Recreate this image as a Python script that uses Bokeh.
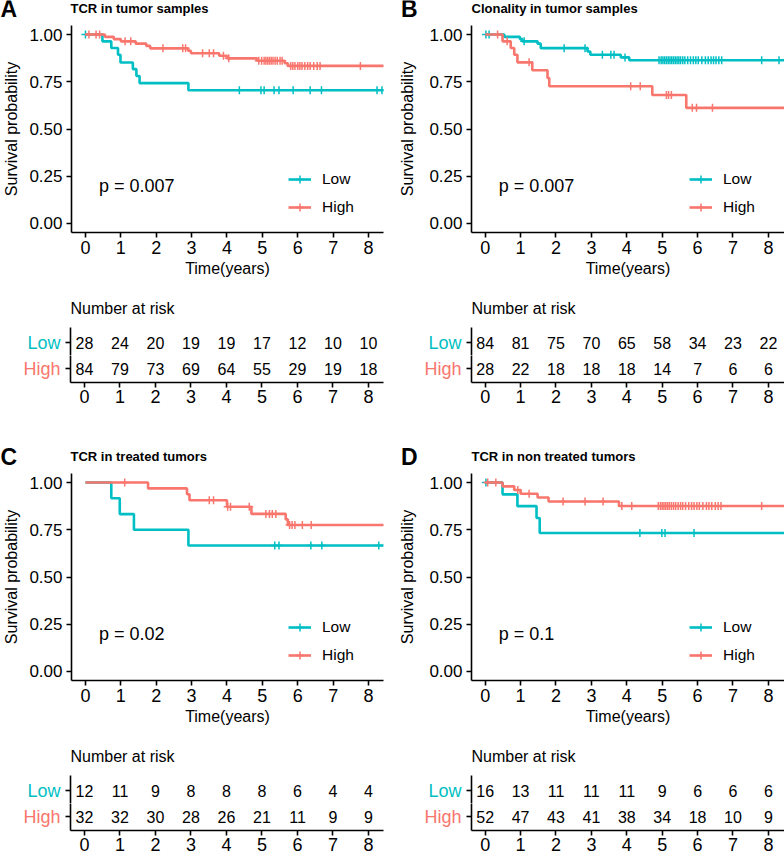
import numpy as np
from bokeh.plotting import figure
from bokeh.layouts import column, row
from bokeh.models import (Range1d, ColumnDataSource, Legend, LegendItem,
                          FixedTicker, NumeralTickFormatter, Label)
from bokeh.core.properties import value
from bokeh.embed import file_html
from bokeh.resources import INLINE

FONT = "Liberation Sans"
LOW_COLOR = "#00BFC4"
HIGH_COLOR = "#F8766D"

years = [0, 1, 2, 3, 4, 5, 6, 7, 8]
groups = ["Low", "High"]
group_rows = [1, 0]
y_ticks = [0.0, 0.25, 0.5, 0.75, 1.0]

# ---------------- Panel A ----------------
a_letter = "A"
a_title = "TCR in tumor samples"
a_pval = "p = 0.007"
a_low_t = [0, 0.48, 0.73, 0.92, 0.99, 1.34, 1.44, 1.53, 2.91, 8.5]
a_low_s = [1.0, 0.964, 0.929, 0.893, 0.852, 0.817, 0.781, 0.743, 0.705, 0.705]
a_low_cens = [0.0, 4.35, 4.96, 5.05, 5.33, 5.47, 5.87, 6.35, 6.67, 8.24, 8.38]
a_high_t = [0, 0.55, 0.80, 1.00, 1.42, 1.72, 1.83, 2.90, 2.98, 3.78, 4.00, 4.85, 5.63, 5.72, 8.5]
a_high_s = [1.0, 0.988, 0.976, 0.964, 0.952, 0.940, 0.927, 0.914, 0.901, 0.888, 0.874, 0.861, 0.848, 0.834, 0.834]
a_high_cens = [0.10, 0.30, 0.40, 1.12, 1.28, 2.19, 2.75, 2.83, 3.31, 3.50, 3.62, 3.90, 4.05,
               4.90, 4.98, 5.05, 5.10, 5.15, 5.20, 5.25, 5.30, 5.36, 5.42, 5.50, 5.56,
               5.80, 5.86, 5.92, 6.00, 6.06, 6.12, 6.20, 6.28, 6.35, 6.45, 6.55, 6.63, 7.77]
a_risk_low = [28, 24, 20, 19, 19, 17, 12, 10, 10]
a_risk_high = [84, 79, 73, 69, 64, 55, 29, 19, 18]

# ---------------- Panel B ----------------
b_letter = "B"
b_title = "Clonality in tumor samples"
b_pval = "p = 0.007"
b_low_t = [0, 0.54, 0.98, 1.05, 1.48, 1.57, 2.89, 2.97, 3.83, 4.07, 8.5]
b_low_s = [1.0, 0.988, 0.976, 0.964, 0.952, 0.928, 0.910, 0.893, 0.879, 0.864, 0.864]
b_low_cens = [0.02, 0.11, 1.10, 2.23, 2.82, 3.31, 3.55, 3.64, 3.95,
              4.91, 4.97, 5.02, 5.07, 5.12, 5.17, 5.22, 5.27, 5.32, 5.37, 5.42, 5.47,
              5.52, 5.58, 5.64, 5.72, 5.80, 5.88, 5.95, 6.02, 6.12, 6.22, 6.30, 6.38,
              6.45, 6.52, 6.60, 6.68, 7.81, 8.30]
b_high_t = [0, 0.49, 0.72, 0.82, 0.91, 1.33, 1.76, 1.81, 4.72, 5.68, 8.5]
b_high_s = [1.0, 0.964, 0.929, 0.893, 0.853, 0.811, 0.770, 0.726, 0.680, 0.612, 0.612]
b_high_cens = [0.35, 0.62, 1.24, 4.11, 4.38, 5.12, 5.18, 5.26, 5.85, 5.97, 6.42]
b_risk_low = [84, 81, 75, 70, 65, 58, 34, 23, 22]
b_risk_high = [28, 22, 18, 18, 18, 14, 7, 6, 6]

# ---------------- Panel C ----------------
c_letter = "C"
c_title = "TCR in treated tumors"
c_pval = "p = 0.02"
c_low_t = [0, 0.73, 0.97, 1.37, 2.91, 8.5]
c_low_s = [1.0, 0.917, 0.833, 0.750, 0.667, 0.667]
c_low_cens = [5.35, 5.47, 6.37, 6.68, 8.29]
c_high_t = [0, 1.77, 2.87, 2.94, 4.00, 4.69, 5.66, 5.72, 8.5]
c_high_s = [1.0, 0.969, 0.938, 0.906, 0.872, 0.834, 0.805, 0.775, 0.775]
c_high_cens = [1.11, 3.50, 3.62, 4.02, 4.10, 4.63, 5.10, 5.20, 5.28, 5.38,
               5.77, 5.84, 5.92, 6.13, 6.38]
c_risk_low = [12, 11, 9, 8, 8, 8, 6, 4, 4]
c_risk_high = [32, 32, 30, 28, 26, 21, 11, 9, 9]

# ---------------- Panel D ----------------
d_letter = "D"
d_title = "TCR in non treated tumors"
d_pval = "p = 0.1"
d_low_t = [0, 0.49, 0.91, 1.45, 1.54, 8.5]
d_low_s = [1.0, 0.9375, 0.875, 0.8125, 0.733, 0.733]
d_low_cens = [0.02, 4.37, 4.99, 5.08, 5.90]
d_high_t = [0, 0.49, 0.82, 1.00, 1.48, 1.79, 3.78, 8.5]
d_high_s = [1.0, 0.980, 0.961, 0.941, 0.921, 0.900, 0.876, 0.876]
d_high_cens = [0.07, 0.30, 0.92, 1.24, 2.20, 2.82, 3.33, 3.86, 4.14,
               4.89, 4.95, 5.00, 5.05, 5.10, 5.15, 5.20, 5.26, 5.32, 5.38, 5.45,
               5.52, 5.58, 5.66, 5.75, 5.83, 5.90, 5.98, 6.05, 6.15, 6.25, 6.32,
               6.40, 6.50, 6.58, 6.66, 7.81]
d_risk_low = [16, 13, 11, 11, 11, 9, 6, 6, 6]
d_risk_high = [52, 47, 43, 41, 38, 34, 18, 10, 9]

# ---------------- geometry (pixels) ----------------
COL_W = 392
COLS = {
    "left": dict(bl=70, br=9, x0=-0.394, x1=8.423, letter_x=0,
                 ylab_standoff=6, leg_x=217),
    "right": dict(bl=79, br=0, x0=-0.387, x1=8.455, letter_x=8.5,
                  ylab_standoff=10, leg_x=218),
}
HDR_H = {"top": 25, "bottom": 61}
LETTER_Y = 16.5      # centre of the panel letter, px above the header bottom
TITLE_Y = 17.5       # centre of the panel title, px above the header bottom
KM_H, KM_BB = 265, 58
RISK_HDR_H, RISK_HDR_Y = 37, 19.5
ROW_PX = 26.0        # pixels between the two rows of the risk table
LOW_FRAME, HIGH_FRAME, TAB_BB = 28, 27, 30


def style_axis(ax, label_size):
    ax.axis_line_color = "black"
    ax.axis_line_width = 1.6
    ax.major_tick_line_color = "black"
    ax.major_tick_line_width = 1.6
    ax.major_tick_out = 5
    ax.major_tick_in = 0
    ax.minor_tick_line_color = None
    ax.major_label_text_font = FONT
    ax.major_label_text_font_size = label_size
    ax.major_label_text_color = "black"


def base_fig(h, xr, yr, bl=0, br=0, bt=0, bb=0, x_axis=True, y_axis=True):
    kw = {}
    if not x_axis:
        kw["x_axis_type"] = None
    if not y_axis:
        kw["y_axis_type"] = None
    p = figure(width=COL_W, height=h, x_range=xr, y_range=yr,
               output_backend="svg", toolbar_location=None, min_border=0,
               min_border_left=bl, min_border_right=br,
               min_border_top=bt, min_border_bottom=bb, **kw)
    p.grid.visible = False
    p.outline_line_color = None
    p.background_fill_color = "white"
    p.border_fill_color = "white"
    return p


def add_text(p, x, y, s, size, bold=False):
    p.text(x=[x], y=[y], text=[s], text_font=value(FONT), text_font_size=size,
           text_font_style="bold" if bold else "normal", text_color="black",
           text_align="left", text_baseline="middle")


def header_fig(col, block, letter, title):
    g = COLS[col]
    h = HDR_H[block]
    p = base_fig(h, Range1d(0, COL_W), Range1d(0, h), x_axis=False, y_axis=False)
    add_text(p, g["letter_x"], LETTER_Y, letter, "23px", True)
    add_text(p, g["bl"], TITLE_Y, title, "13px", True)
    return p


def risk_header_fig(col):
    g = COLS[col]
    p = base_fig(RISK_HDR_H, Range1d(0, COL_W), Range1d(0, RISK_HDR_H),
                 x_axis=False, y_axis=False)
    add_text(p, g["bl"], RISK_HDR_Y, "Number at risk", "16px")
    return p


def step_at(t, s, c):
    t = np.asarray(t, dtype=float)
    s = np.asarray(s, dtype=float)
    idx = np.searchsorted(t, np.asarray(c, dtype=float), side="right") - 1
    return s[np.clip(idx, 0, len(s) - 1)]


def km_fig(col, pval, low_t, low_s, low_c, high_t, high_s, high_c):
    g = COLS[col]
    p = base_fig(KM_H, Range1d(g["x0"], g["x1"]), Range1d(-0.048, 1.048),
                 bl=g["bl"], br=g["br"], bt=0, bb=KM_BB)
    style_axis(p.xaxis[0], "18px")
    style_axis(p.yaxis[0], "17px")
    p.xaxis.ticker = FixedTicker(ticks=years)
    p.xaxis.major_label_standoff = 3
    p.xaxis.axis_label = "Time(years)"
    p.xaxis.axis_label_text_font = FONT
    p.xaxis.axis_label_text_font_size = "16px"
    p.xaxis.axis_label_text_font_style = "normal"
    p.xaxis.axis_label_text_color = "black"
    p.xaxis.axis_label_standoff = 3
    p.yaxis.ticker = FixedTicker(ticks=y_ticks)
    p.yaxis.formatter = NumeralTickFormatter(format="0.00")
    p.yaxis.major_label_standoff = 4
    p.yaxis.axis_label = "Survival probability"
    p.yaxis.axis_label_text_font = FONT
    p.yaxis.axis_label_text_font_size = "16px"
    p.yaxis.axis_label_text_font_style = "normal"
    p.yaxis.axis_label_text_color = "black"
    p.yaxis.axis_label_standoff = g["ylab_standoff"]

    items = []
    for name, t, s, c, color in (("Low", low_t, low_s, low_c, LOW_COLOR),
                                 ("High", high_t, high_s, high_c, HIGH_COLOR)):
        line = p.step(x=t, y=s, mode="after", line_color=color, line_width=2.6)
        cens = p.scatter(x=c, y=step_at(t, s, c), marker="cross", size=8,
                         line_color=color, line_width=1.5)
        items.append(LegendItem(label=name, renderers=[line, cens]))

    legend = Legend(items=items, location=(g["leg_x"], 15), orientation="vertical",
                    padding=0, margin=0, spacing=8, glyph_width=23, glyph_height=20,
                    label_height=20, label_standoff=11,
                    label_text_font=FONT, label_text_font_size="15.5px",
                    label_text_color="black",
                    border_line_color=None, background_fill_alpha=0)
    p.add_layout(legend)
    p.add_layout(Label(x=0.38, y=0.2, text=pval, text_font=FONT, text_font_size="18px",
                       text_color="black", text_baseline="middle", text_align="left"))
    return p


def risk_row_fig(col, name, row_y, counts, color, frame_h, top_px, with_x_axis):
    """One row of the number-at-risk table; top_px = pixels above the row centre."""
    g = COLS[col]
    yr = Range1d(row_y - (frame_h - top_px) / ROW_PX, row_y + top_px / ROW_PX)
    p = base_fig(frame_h + (TAB_BB if with_x_axis else 0), Range1d(g["x0"], g["x1"]), yr,
                 bl=g["bl"], br=g["br"], bb=TAB_BB if with_x_axis else 0,
                 x_axis=with_x_axis)
    style_axis(p.yaxis[0], "18px")
    p.yaxis.ticker = FixedTicker(ticks=[row_y])
    p.yaxis.major_label_overrides = {row_y: name}
    p.yaxis.major_label_text_color = color
    p.yaxis.major_label_standoff = 5
    if with_x_axis:
        style_axis(p.xaxis[0], "18px")
        p.xaxis.ticker = FixedTicker(ticks=years)
        p.xaxis.major_label_standoff = 2
    src = ColumnDataSource(dict(t=years, r=[row_y] * len(years),
                                n=[str(v) for v in counts]))
    p.text(x="t", y="r", text="n", source=src, text_align="center",
           text_baseline="middle", text_font=value(FONT), text_font_size="16px",
           text_color="black")
    return p


def block_rows(block, panels):
    """panels: [(col, letter, title, pval, lt, ls, lc, ht, hs, hc, rl, rh), ...] left→right."""
    hdr, km, rhdr, low, high = [], [], [], [], []
    for col, letter, title, pval, lt, ls, lc, ht, hs, hc, rl, rh in panels:
        hdr.append(header_fig(col, block, letter, title))
        km.append(km_fig(col, pval, lt, ls, lc, ht, hs, hc))
        rhdr.append(risk_header_fig(col))
        low.append(risk_row_fig(col, groups[0], group_rows[0], rl, LOW_COLOR,
                                LOW_FRAME, 15, False))
        high.append(risk_row_fig(col, groups[1], group_rows[1], rh, HIGH_COLOR,
                                 HIGH_FRAME, 13, True))
    return [row(*hdr), row(*km), row(*rhdr), row(*low), row(*high)]


top_rows = block_rows("top", [
    ("left", a_letter, a_title, a_pval, a_low_t, a_low_s, a_low_cens,
     a_high_t, a_high_s, a_high_cens, a_risk_low, a_risk_high),
    ("right", b_letter, b_title, b_pval, b_low_t, b_low_s, b_low_cens,
     b_high_t, b_high_s, b_high_cens, b_risk_low, b_risk_high),
])
bottom_rows = block_rows("bottom", [
    ("left", c_letter, c_title, c_pval, c_low_t, c_low_s, c_low_cens,
     c_high_t, c_high_s, c_high_cens, c_risk_low, c_risk_high),
    ("right", d_letter, d_title, d_pval, d_low_t, d_low_s, d_low_cens,
     d_high_t, d_high_s, d_high_cens, d_risk_low, d_risk_high),
])

layout = column(*top_rows, *bottom_rows)

open("out.html", "w").write(file_html(layout, INLINE))
